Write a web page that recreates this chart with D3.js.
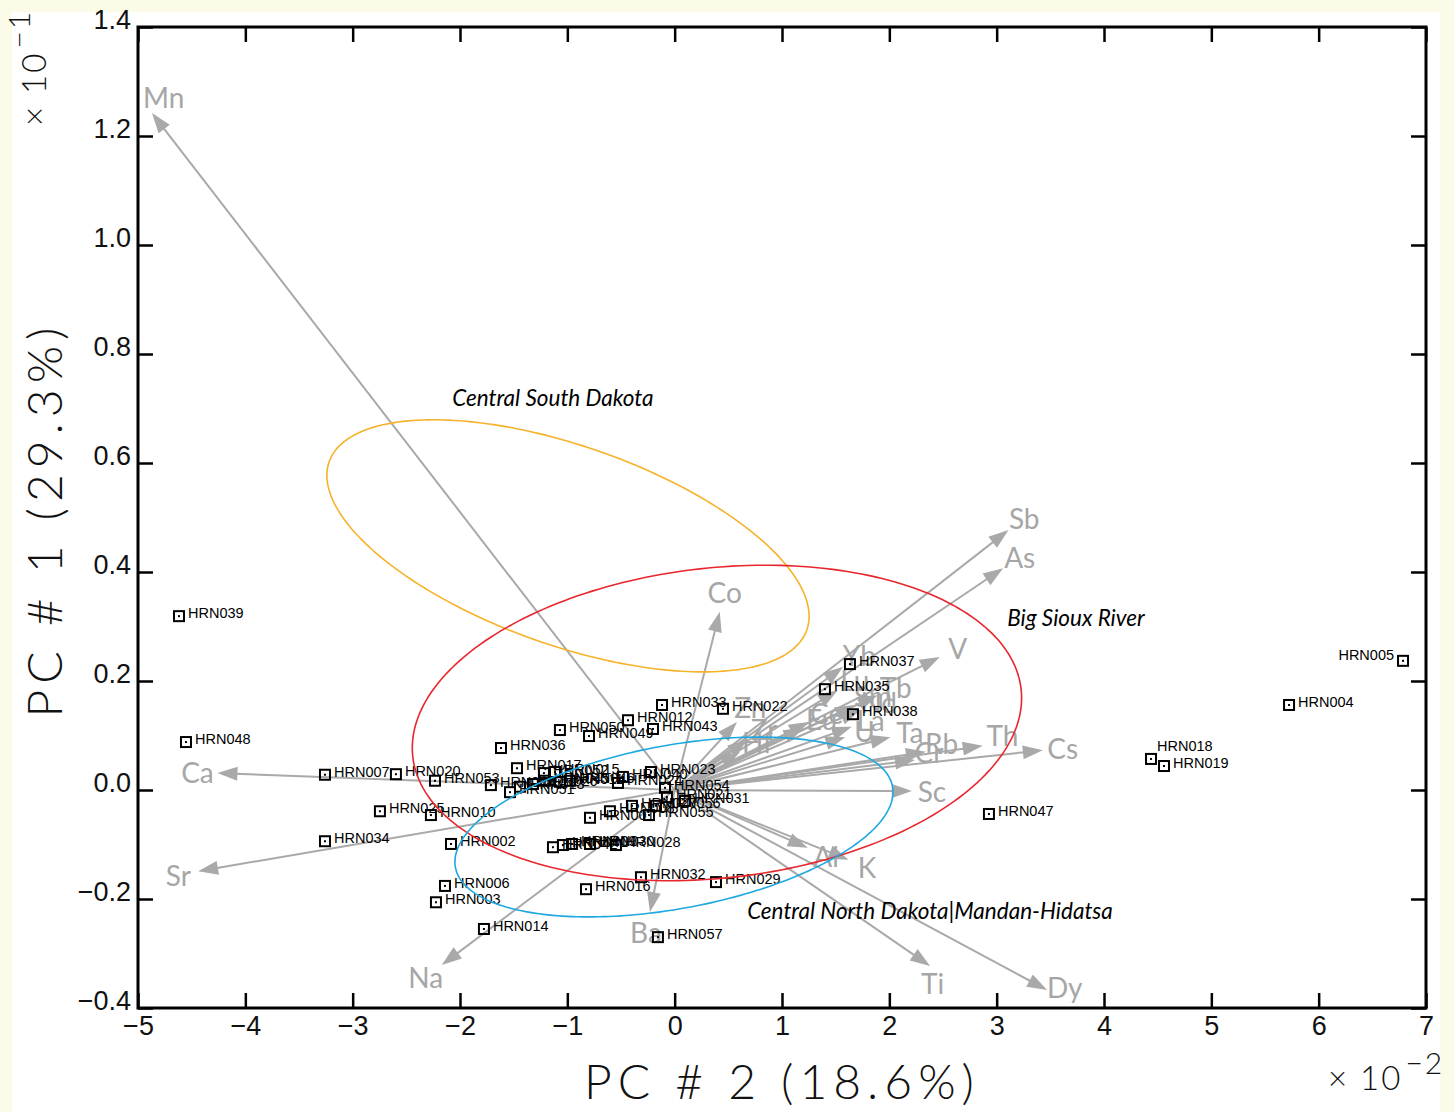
<!DOCTYPE html>
<html>
<head>
<meta charset="utf-8">
<script src="https://cdn.jsdelivr.net/npm/d3@7"></script>
<style>
  html, body { margin: 0; padding: 0; background: #fcfbe8; }
  svg { display: block; }
</style>
</head>
<body>
<svg id="chart" width="1454" height="1112"></svg>
<script>
// ---- Sample scores: PC #2 (x, in units of 10^-2) and PC #1 (y, in units of 10^-1)
const sampleIds = [
  "HRN001","HRN002","HRN003","HRN004","HRN005","HRN006","HRN007","HRN008","HRN009","HRN010",
  "HRN011","HRN012","HRN013","HRN014","HRN015","HRN016","HRN017","HRN018","HRN019","HRN020",
  "HRN021","HRN022","HRN023","HRN024","HRN025","HRN026","HRN027","HRN028","HRN029","HRN030",
  "HRN031","HRN032","HRN033","HRN034","HRN035","HRN036","HRN037","HRN038","HRN039","HRN040",
  "HRN041","HRN042","HRN043","HRN044","HRN045","HRN046","HRN047","HRN048","HRN049","HRN050",
  "HRN051","HRN052","HRN053","HRN054","HRN055","HRN056","HRN057"
];
const sampleX = [
  -0.789,-2.084,-2.224, 5.724, 6.786,-2.140,-3.258,-0.603,-0.957,-2.271,
  -1.069,-0.435,-1.441,-1.777,-1.115,-0.826,-1.469, 4.438, 4.559,-2.597,
  -0.072, 0.450,-0.221,-0.528,-2.746,-1.320,-0.398,-0.547, 0.385,-0.789,
   0.096,-0.314,-0.118,-3.258, 1.400,-1.618, 1.633, 1.661,-4.618,-0.482,
  -1.041,-1.134,-0.202,-1.712,-1.209,-0.976, 2.928,-4.553,-0.798,-1.069,
  -1.534,-1.218,-2.233,-0.090,-0.239,-0.174,-0.156
];
const sampleY = [
  -0.051,-0.099,-0.206, 0.156, 0.237,-0.176, 0.028,-0.039,-0.099,-0.046,
   0.015, 0.128, 0.006,-0.255, 0.033,-0.182, 0.040, 0.057, 0.044, 0.029,
  -0.013, 0.149, 0.033, 0.013,-0.039, 0.011,-0.029,-0.101,-0.169,-0.099,
  -0.020,-0.160, 0.156,-0.094, 0.185, 0.077, 0.231, 0.139, 0.319, 0.024,
  -0.101,-0.105, 0.112, 0.009, 0.017, 0.017,-0.044, 0.088, 0.099, 0.110,
  -0.004, 0.031, 0.017, 0.004,-0.046,-0.029,-0.270
];

// ---- Element loadings (arrow tips), same units as the scores
const elements = ["Mn","Ca","Sr","Na","Ba","Co","Sb","As","V","Yb","Lu","Tb","Sm","Nd","La","U","Eu","Ce","Zn","Zr","Hf","Ta","Rb","Cr","Th","Cs","Sc","Al","K","Ti","Dy"];
const loadX = [-4.87,-4.26,-4.44,-2.17,-0.23,0.42,3.11,3.06,2.47,1.57,1.52,1.89,1.68,1.73,1.65,1.59,1.20,1.25,0.58,0.68,0.61,2.01,2.34,2.24,2.87,3.43,2.21,1.24,1.62,2.38,3.47];
const loadY = [1.242,0.031,-0.149,-0.321,-0.224,0.327,0.477,0.407,0.244,0.226,0.183,0.174,0.156,0.147,0.116,0.097,0.114,0.125,0.125,0.092,0.070,0.097,0.070,0.055,0.081,0.073,-0.002,-0.106,-0.128,-0.323,-0.367];

// ---- Group confidence ellipses: centre and semi-axis vectors
const groupNames   = ["Central South Dakota", "Big Sioux River", "Central North Dakota|Mandan-Hidatsa"];
const groupCx      = [-0.994, 0.394, -0.0065];
const groupCy      = [ 0.448, 0.123, -0.0679];
const groupMajorX  = [ 2.225, 2.834, 2.036];
const groupMajorY  = [-0.1543, 0.0617, 0.0743];
const groupMinorX  = [-0.3084, 0.158, 0.1388];
const groupMinorY  = [-0.1723,-0.2828,-0.1473];

// ---- Axis ticks
const xTicks = [-5,-4,-3,-2,-1,0,1,2,3,4,5,6,7];
const yTicks = [-0.4,-0.2,0.0,0.2,0.4,0.6,0.8,1.0,1.2,1.4];

// ---- Layout
const W = 1454, H = 1112;
const plot = { left: 138, right: 1426, top: 27, bottom: 1008 };
const groupColors = ["#f6b22a", "#e8262e", "#1ea8e0"];
const groupLabelPos = [[-1.134, 0.721], [3.739, 0.317], [2.379, -0.222]];
const arrowColor = "#a9a9a9";
const labelNudge = { Mn: [24, 0], Dy: [0, -12], Ti: [-14, 6], Th: [0, -8], Rb: [-4, -6], Cr: [-6, -6] };
const labelLeftOf = new Set(["HRN005"]);
const labelAbove = new Set(["HRN018"]);

const svg = d3.select("#chart");

// white page area inside the cream border
svg.append("rect").attr("x", 12).attr("y", 12).attr("width", W - 24 - 2).attr("height", H - 12)
  .attr("fill", "#ffffff");

const x = d3.scaleLinear().domain([-5, 7]).range([plot.left, plot.right]);
const y = d3.scaleLinear().domain([-0.4, 1.4]).range([plot.bottom, plot.top]);

const tickFont = "'Liberation Sans', Arial, sans-serif";
const titleFont = "Lato, 'DejaVu Sans', sans-serif";

// ---- Axes (inward ticks on all four sides)
function styleAxis(g) {
  g.select(".domain").remove();
  g.selectAll(".tick line").attr("stroke", "#000").attr("stroke-width", 2.5);
  g.attr("font-family", tickFont).attr("font-size", 27);
  g.selectAll(".tick text").attr("fill", "#111");
}
svg.append("g").attr("transform", `translate(0,${plot.bottom})`)
  .call(d3.axisBottom(x).tickValues(xTicks).tickSize(-15).tickPadding(8).tickFormat(d3.format("d")))
  .call(styleAxis);
svg.append("g").attr("transform", `translate(0,${plot.top})`)
  .call(d3.axisTop(x).tickValues(xTicks).tickSize(-15).tickFormat(""))
  .call(styleAxis);
svg.append("g").attr("transform", `translate(${plot.left},0)`)
  .call(d3.axisLeft(y).tickValues(yTicks).tickSize(-15).tickPadding(7).tickFormat(d3.format(".1f")))
  .call(styleAxis)
  .call(g => g.selectAll(".tick text").attr("dy", "0.06em"));
svg.append("g").attr("transform", `translate(${plot.right},0)`)
  .call(d3.axisRight(y).tickValues(yTicks).tickSize(-15).tickFormat(""))
  .call(styleAxis);

// ---- Loading arrows
const ox = x(0), oy = y(0);
const arrows = elements.map((name, i) => ({ name, tx: x(loadX[i]), ty: y(loadY[i]) }));
const arrowG = svg.append("g");
const headLen = 20, headHalf = 7;
arrows.forEach(a => {
  const dx = a.tx - ox, dy = a.ty - oy;
  const len = Math.hypot(dx, dy);
  const ux = dx / len, uy = dy / len;
  const bx = a.tx - ux * headLen, by = a.ty - uy * headLen;
  arrowG.append("line")
    .attr("x1", ox).attr("y1", oy).attr("x2", bx + ux * 2).attr("y2", by + uy * 2)
    .attr("stroke", arrowColor).attr("stroke-width", 2);
  arrowG.append("path")
    .attr("d", `M${a.tx},${a.ty}L${bx - uy * headHalf},${by + ux * headHalf}L${bx + uy * headHalf},${by - ux * headHalf}Z`)
    .attr("fill", arrowColor);
  const nudge = labelNudge[a.name] || [0, 0];
  arrowG.append("text")
    .attr("x", a.tx + ux * 20 + nudge[0]).attr("y", a.ty + uy * 20 + nudge[1])
    .attr("text-anchor", "middle").attr("dominant-baseline", "central")
    .attr("font-family", titleFont).attr("font-size", 28)
    .attr("fill", "#a6a6a6").text(a.name);
});

// ---- Sample markers and labels
const samples = sampleIds.map((id, i) => ({ id, px: x(sampleX[i]), py: y(sampleY[i]) }));
const ptG = svg.append("g");
samples.forEach(s => {
  ptG.append("rect").attr("x", s.px - 5).attr("y", s.py - 5).attr("width", 10).attr("height", 10)
    .attr("fill", "none").attr("stroke", "#000").attr("stroke-width", 2);
  ptG.append("rect").attr("x", s.px - 1).attr("y", s.py - 1).attr("width", 2).attr("height", 2)
    .attr("fill", "#000");
  let lx = s.px + 9, ly = s.py - 3, anchor = "start";
  if (labelLeftOf.has(s.id)) { lx = s.px - 9; ly = s.py - 6; anchor = "end"; }
  if (labelAbove.has(s.id)) { lx = s.px + 6; ly = s.py - 13; }
  ptG.append("text").attr("x", lx).attr("y", ly)
    .attr("text-anchor", anchor).attr("dominant-baseline", "central")
    .attr("font-family", tickFont).attr("font-size", 14.5).attr("fill", "#000")
    .text(s.id);
});

// ---- Group ellipses
const ellLine = d3.line().curve(d3.curveLinearClosed);
groupNames.forEach((name, g) => {
  const pts = d3.range(0, 240).map(k => {
    const t = k / 240 * 2 * Math.PI;
    const dx = groupCx[g] + groupMajorX[g] * Math.cos(t) + groupMinorX[g] * Math.sin(t);
    const dy = groupCy[g] + groupMajorY[g] * Math.cos(t) + groupMinorY[g] * Math.sin(t);
    return [x(dx), y(dy)];
  });
  svg.append("path").attr("d", ellLine(pts))
    .attr("fill", "none").attr("stroke", groupColors[g]).attr("stroke-width", 1.6);
  svg.append("text")
    .attr("x", x(groupLabelPos[g][0])).attr("y", y(groupLabelPos[g][1]))
    .attr("text-anchor", "middle").attr("dominant-baseline", "central")
    .attr("font-family", titleFont).attr("font-style", "italic").attr("font-size", 22.5)
    .attr("fill", "#000").text(name);
});

// ---- Plot frame
svg.append("rect").attr("x", plot.left).attr("y", plot.top)
  .attr("width", plot.right - plot.left).attr("height", plot.bottom - plot.top)
  .attr("fill", "none").attr("stroke", "#000").attr("stroke-width", 3);

// ---- Axis titles
svg.append("text")
  .attr("x", (plot.left + plot.right) / 2).attr("y", 1099)
  .attr("text-anchor", "middle")
  .attr("font-family", titleFont).attr("font-weight", 300).attr("font-size", 48)
  .attr("letter-spacing", 6).attr("fill", "#111")
  .text("PC # 2 (18.6%)");
svg.append("text")
  .attr("transform", `translate(62,${(plot.top + plot.bottom) / 2 + 2}) rotate(-90)`)
  .attr("text-anchor", "middle")
  .attr("font-family", titleFont).attr("font-weight", 300).attr("font-size", 48)
  .attr("letter-spacing", 6).attr("fill", "#111")
  .text("PC # 1 (29.3%)");

// ---- Scale multipliers
const multX = svg.append("text").attr("x", 1328).attr("y", 1090)
  .attr("font-family", titleFont).attr("font-weight", 300).attr("font-size", 33)
  .attr("letter-spacing", 2).attr("fill", "#111");
multX.append("tspan").text("× 10");
multX.append("tspan").attr("dy", -16).attr("dx", 3).attr("font-size", 30).text("−2");

const multY = svg.append("text")
  .attr("transform", "translate(46,126) rotate(-90)")
  .attr("font-family", titleFont).attr("font-weight", 300).attr("font-size", 33)
  .attr("letter-spacing", 2).attr("fill", "#111");
multY.append("tspan").text("× 10");
multY.append("tspan").attr("dy", -16).attr("dx", 3).attr("font-size", 30).text("−1");
</script>
</body>
</html>
